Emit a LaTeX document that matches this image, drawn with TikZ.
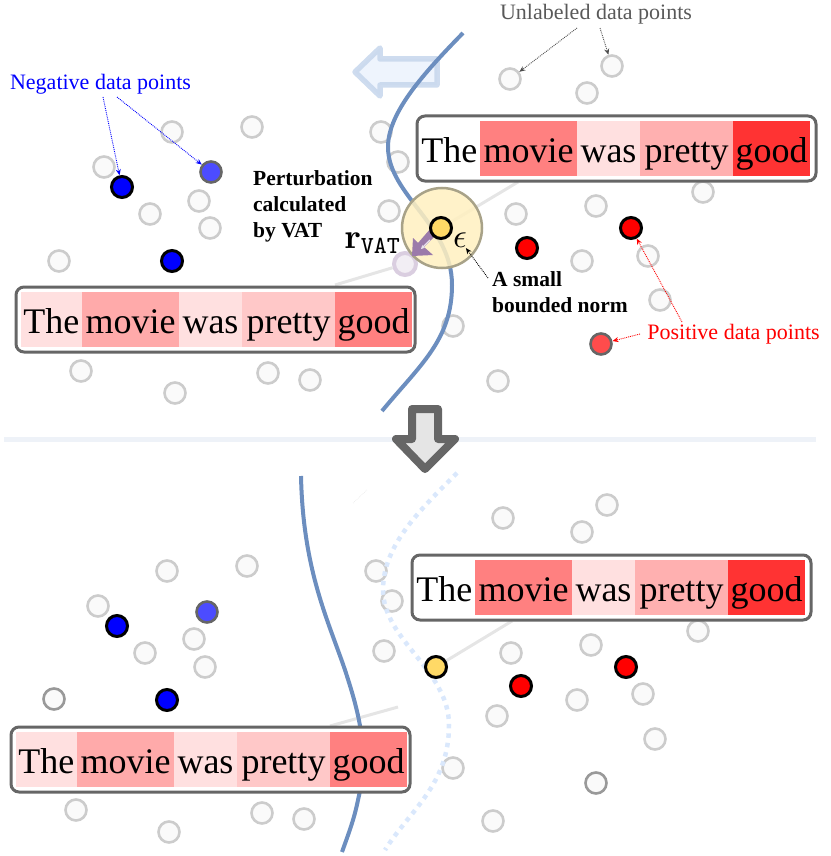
\documentclass[tikz,border=0pt]{standalone}
\usepackage[no-math]{fontspec}
\setmainfont{Liberation Serif}
\usetikzlibrary{arrows.meta}
\definecolor{curveblue}{HTML}{6C8EBF}
\definecolor{paleblue}{HTML}{DAE8FC}
\definecolor{ptgray}{HTML}{CCCCCC}
\definecolor{boxgray}{HTML}{666666}
\definecolor{ballfill}{HTML}{FFF0C0}
\definecolor{ballline}{HTML}{A8A288}
\definecolor{ptyellow}{HTML}{FFD966}
\definecolor{advpurple}{HTML}{9673A6}
\definecolor{sepline}{HTML}{EEF2F8}
\tikzset{
  pt/.style={circle,draw=ptgray,fill=white!98!black,line width=2.6pt,minimum size=21pt,inner sep=0pt},
  ptdark/.style={pt,draw=black!40},
  negpt/.style={pt,draw=black,fill=blue,line width=3pt},
  negsoft/.style={pt,draw=boxgray,fill=blue!70!white},
  pospt/.style={pt,draw=black,fill=red,line width=3pt},
  possoft/.style={pt,draw=boxgray,fill=red!70!white},
  sentbox/.style={draw=boxgray,fill=white,line width=3pt,rounded corners=8pt,inner sep=0pt,outer sep=0pt,anchor=north west},
  wordcell/.style={inner sep=0pt,outer sep=0pt,text height=41pt,text depth=14pt,anchor=base,font=\fontsize{36}{38}\selectfont},
  note/.style={inner sep=0pt,font=\fontsize{22}{25}\selectfont},
  boldnote/.style={inner sep=0pt,align=left,anchor=north west,font=\fontsize{21.5}{26}\selectfont\bfseries},
  notearrow/.style={densely dotted,line width=0.9pt,-{Stealth[length=6pt,width=5pt]}},
  wire/.style={line width=3pt,color=black!10},
  boundary/.style={curveblue,line width=4pt},
  oldboundary/.style={paleblue,line width=4.5pt,dash pattern=on 4.5pt off 5pt},
}
% cell: name, x-left, x-right, baseline y, fill, word
\newcommand{\wcell}[6]{\node[wordcell,fill=#5,minimum width=#3pt-#2pt] (#1) at ({(#2+#3)/2},#4) {#6};}
% prefix, cell dx, dy, 5 colours, box dx
\newcommand{\sentence}[9]{%
\node[sentbox,minimum width=399pt,minimum height=65pt] (#1box) at ({417+#9},{116+#3}) {};
\begin{scope}[shift={(#2,#3)}]
\wcell{#1w1}{418.5}{480}{162}{#4}{The}
\wcell{#1w2}{480}{577}{162}{#5}{movie}
\wcell{#1w3}{577}{640}{162}{#6}{was}
\wcell{#1w4}{640}{733}{162}{#7}{pretty}
\wcell{#1w5}{733}{810}{162}{#8}{good}
\end{scope}}
\definecolor{c1}{HTML}{FFE0E0}
\definecolor{c2}{HTML}{FFAAAA}
\definecolor{c3}{HTML}{FFC8C8}
\definecolor{c4}{HTML}{FF8080}
\definecolor{c5}{HTML}{FF3333}
\definecolor{c6}{HTML}{FFB0B0}
\begin{document}
\begin{tikzpicture}[x=1pt,y=-1pt]
\useasboundingbox (0,0) rectangle (830,856);
% separator
\draw[line width=5pt,color=sepline] (4,439) -- (816,439);
% --- top panel ---
\draw[draw=paleblue!60!curveblue!70,fill=paleblue!55,line width=5.5pt,line join=round,opacity=.85]
  (355,72) -- (380,48) -- (380,59) -- (437,59) -- (437,85) -- (380,85) -- (380,96) -- cycle;
\foreach \n/\x/\y in {a1/510/79,a2/612/66,a3/587/93,a4/381/132,a5/398/162,a6/389/211,a7/516/214,a8/596/206,a9/582/261,a10/648/256,
  a11/172/132,a12/252/127,a13/104/167,a14/199/201,a15/150/214,a16/210/228,a17/59/261,a18/703/192,a19/660/300,a20/453/326,
  a21/81/371,a22/175/393,a23/268/373,a24/310/380,a25/498/381}
  \node[pt] (\n) at (\x,\y) {};
\coordinate (wirea) at (518,182);
\coordinate (wireb) at (335,285);
\node[negpt] (b1) at (122,187) {};
\node[negsoft] (b2) at (211,172) {};
\node[negpt] (b3) at (172,261) {};
\node[pospt] (r1) at (527,248) {};
\node[pospt] (r2) at (631,228) {};
\node[possoft] (r3) at (601,344) {};
\node[circle,draw=advpurple!35,fill=advpurple!12,line width=4pt,minimum size=22pt,inner sep=0pt] (adv) at (405,264) {};
\node[circle,minimum size=20pt,inner sep=0pt] (yc) at (441,228) {};
\draw[wire] (yc.center) -- (wirea);
\draw[wire] (adv) -- (wireb);
\coordinate (ct0) at (463,33);
\coordinate (ct1) at (388,147);
\coordinate (ct2) at (452,285);
\coordinate (ct3) at (382,411);
\draw[boundary] (ct0) .. controls (425,72) and (388,112) .. (ct1)
  .. controls (388,195) and (452,225) .. (ct2)
  .. controls (452,340) and (420,365) .. (ct3);
\node[circle,draw=ballline,fill=ballfill,fill opacity=.85,line width=2.5pt,minimum size=80pt,inner sep=0pt] (ball) at (442,228) {};
\fill[advpurple!95!white] (437,234) -- (424,247) -- (433,255) -- (412,256) -- (413,238) -- (418,243) -- (431,228) -- cycle;
\draw[white!80!advpurple,line width=1.2pt,-{Stealth[length=4pt,width=4pt]}] (430,240) -- (421,249);
\node[pt,draw=black,fill=ptyellow,line width=3pt] (yp) at (441,228) {};
\node[inner sep=0pt,scale=3.5] (rvat) at (373,243) {$\mathbf{r}_{\mathtt{VAT}}$};
\node[inner sep=0pt,scale=3.4] (eps) at (460,240) {$\epsilon$};
\sentence{t}{0}{0}{white}{c4}{c1}{c6}{c5}{0}
\sentence{l}{-398}{171}{c1}{c2}{c1}{c3}{c4}{-401}
% annotations
\node[note,text=black!65] (lblu) at (596,14) {Unlabeled data points};
\node[note,text=blue] (lbln) at (100.5,84) {Negative data points};
\node[note,text=red] (lblp) at (733.5,334) {Positive data points};
\node[boldnote] (lblv) at (253,170) {Perturbation\\calculated\\by VAT};
\node[boldnote] (lbls) at (492,271) {A small\\bounded norm};
\coordinate (u1s) at (577,28);
\coordinate (u2s) at (600,28);
\coordinate (n1s) at (103,97);
\coordinate (n2s) at (117,97);
\coordinate (p1s) at (682,322);
\coordinate (p2s) at (640,334);
\coordinate (ss) at (488,278);
\draw[notearrow,black!70] (u1s) -- (a1);
\draw[notearrow,black!70] (u2s) -- (a2);
\draw[notearrow,blue] (n1s) -- (b1);
\draw[notearrow,blue] (n2s) -- (b2);
\draw[notearrow,red] (p1s) -- (r2);
\draw[notearrow,red] (p2s) -- (r3);
\draw[notearrow,black] (ss) -- (eps);
% --- arrow down ---
\draw[draw=boxgray,fill=black!10,line width=8pt,line join=round]
  (412,409) -- (438,409) -- (438,439) -- (455,439) -- (425,469) -- (396,439) -- (412,439) -- cycle;
% --- bottom panel ---
\draw[black!8,line width=.7pt,densely dotted] (353,503) -- (367,490);
\foreach \n/\x/\y in {c1/503/518,c2/607/505,c3/582/532,c4/376/571,c5/392/601,c6/384/651,c7/511/653,c8/591/645,c9/577/700,c10/643/694,
  c11/167/571,c12/247/566,c13/98/606,c14/194/639,c15/145/653,c16/205/667,c18/698/631,c19/655/739,c20/453/768,
  c21/76/810,c22/169/832,c23/262/813,c24/304/819,c25/493/821,c26/497/716}
  \node[pt] (\n) at (\x,\y) {};
\node[ptdark] (c17) at (54,699) {};
\node[ptdark] (c27) at (596,783) {};
\node[negpt] (d1) at (117,626) {};
\node[negsoft] (d2) at (207,612) {};
\node[negpt] (d3) at (167,700) {};
\node[pospt] (s1) at (521,686) {};
\node[pospt] (s2) at (626,667) {};
\coordinate (wirec) at (512,621);
\coordinate (wired) at (330,726);
\coordinate (wiree) at (398,707);
\node[circle,minimum size=20pt,inner sep=0pt] (yd) at (436,667) {};
\draw[wire] (yd.center) -- (wirec);
\draw[wire] (wiree) -- (wired);
\draw[oldboundary] (457,473) .. controls (420,510) and (383,545) .. (383,590)
  .. controls (383,640) and (449,670) .. (449,725)
  .. controls (449,785) and (410,810) .. (385,850);
\node[pt,draw=black,fill=ptyellow,line width=3pt] (yq) at (436,667) {};
\draw[boundary] (301,476) .. controls (303,570) and (328,620) .. (345,670)
  .. controls (358,710) and (370,750) .. (358,800) .. controls (354,820) and (348,835) .. (342,852);
\sentence{r}{-5}{439}{white}{c4}{c1}{c6}{c5}{-5}
\sentence{m}{-403}{611}{c1}{c2}{c1}{c3}{c4}{-406}
\end{tikzpicture}
\end{document}
